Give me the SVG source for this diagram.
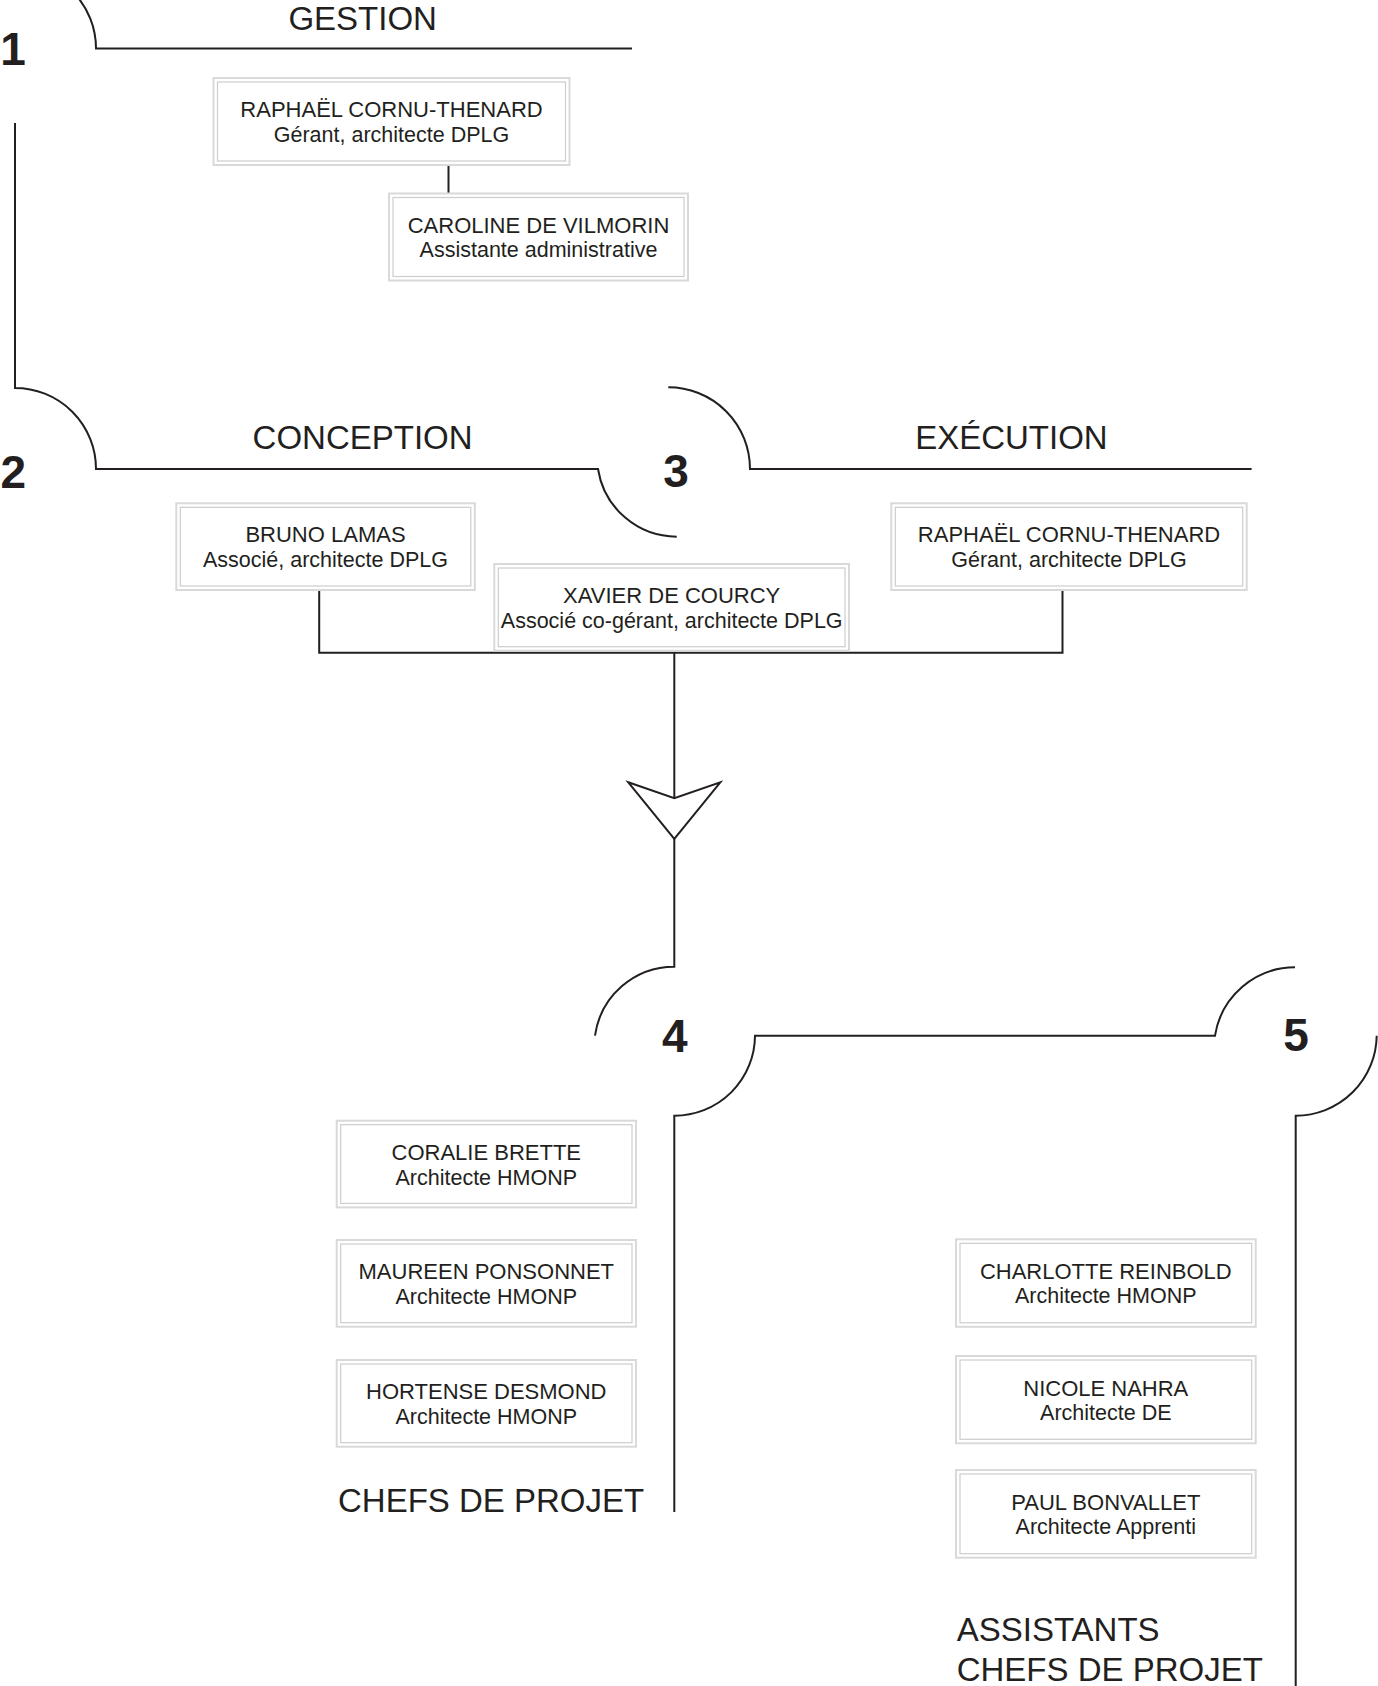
<svg xmlns="http://www.w3.org/2000/svg" width="1378" height="1686" viewBox="0 0 1378 1686">
<style>
.bo{fill:#fff;stroke:#d9d9d9;stroke-width:2}
.bi{fill:none;stroke:#cdcdcd;stroke-width:1.2}
.nm{font-family:"Liberation Sans",Arial,sans-serif;font-size:22px;fill:#231f20;text-anchor:middle}
.rl{font-family:"Liberation Sans",Arial,sans-serif;font-size:21.5px;fill:#231f20;text-anchor:middle}
.ttl{font-family:"Liberation Sans",Arial,sans-serif;font-size:33px;fill:#231f20}
.num{font-family:"Liberation Sans",Arial,sans-serif;font-size:46px;font-weight:bold;fill:#231f20;text-anchor:middle}
.ln{fill:none;stroke:#231f20;stroke-width:2}
.ah{fill:#fff;stroke:#231f20;stroke-width:2;stroke-linejoin:miter}
</style>
<rect width="1378" height="1686" fill="#fff"/>

<g id="connectors">
  <path class="ln" d="M15,-32.5 A81,81 0 0 1 96,48.5 H632"/>
  <path class="ln" d="M15,123 V388 A81,81 0 0 1 96,469 H598 A80,80 0 0 0 676.7,536.7"/>
  <path class="ln" d="M668.3,387.3 A81.7,81.7 0 0 1 750,469 H1251.6"/>
  <path class="ln" d="M448.5,165 V193.5"/>
  <path class="ln" d="M319.2,590 V652.7 H1062.5 V590"/>
  <path class="ln" d="M674.3,652.7 V798.3"/>
  <path class="ln" d="M674.3,839 V966.7 A80,80 0 0 0 595,1035.7"/>
  <polygon class="ah" points="628.3,782.3 674.3,798.3 720.3,782.3 674.3,839"/>
  <path class="ln" d="M1295,967.3 A81,81 0 0 0 1215,1035.7 H755 A80.5,80.5 0 0 1 674.3,1115.7 V1512"/>
  <path class="ln" d="M1376.7,1035.7 A81,81 0 0 1 1295.7,1115.7 V1686"/>
</g>

<g id="section-labels">
  <text class="num" x="13" y="65">1</text>
  <text class="num" x="13.4" y="487.5">2</text>
  <text class="num" x="676" y="486.5">3</text>
  <text class="num" x="674.8" y="1052.3">4</text>
  <text class="num" x="1296" y="1051.2">5</text>
  <text class="ttl" x="362.7" y="29.5" text-anchor="middle">GESTION</text>
  <text class="ttl" x="362.6" y="449.3" text-anchor="middle">CONCEPTION</text>
  <text class="ttl" x="1011.4" y="449.3" text-anchor="middle">EXÉCUTION</text>
  <text class="ttl" x="338" y="1511.7">CHEFS DE PROJET</text>
  <text class="ttl" x="956.7" y="1641">ASSISTANTS</text>
  <text class="ttl" x="956.7" y="1681">CHEFS DE PROJET</text>
</g>

<g id="n-raphael-gestion">
  <rect class="bo" x="213.5" y="78" width="356" height="87"/>
  <rect class="bi" x="217.5" y="82" width="348" height="79"/>
  <text class="nm" x="391.5" y="117.3">RAPHAËL CORNU-THENARD</text>
  <text class="rl" x="391.5" y="141.7">Gérant, architecte DPLG</text>
</g>
<g id="n-caroline">
  <rect class="bo" x="389" y="193.5" width="299" height="87"/>
  <rect class="bi" x="393" y="197.5" width="291" height="79"/>
  <text class="nm" x="538.5" y="232.5">CAROLINE DE VILMORIN</text>
  <text class="rl" x="538.5" y="257">Assistante administrative</text>
</g>
<g id="n-bruno">
  <rect class="bo" x="176.3" y="503.3" width="298.5" height="86.7"/>
  <rect class="bi" x="180.3" y="507.3" width="290.5" height="78.7"/>
  <text class="nm" x="325.5" y="542.3">BRUNO LAMAS</text>
  <text class="rl" x="325.5" y="567">Associé, architecte DPLG</text>
</g>
<g id="n-xavier">
  <rect class="bo" x="494.3" y="564" width="354.7" height="86.7"/>
  <rect class="bi" x="498.3" y="568" width="346.7" height="78.7"/>
  <text class="nm" x="671.7" y="602.7">XAVIER DE COURCY</text>
  <text class="rl" x="671.7" y="627.5">Associé co-gérant, architecte DPLG</text>
</g>
<g id="n-raphael-execution">
  <rect class="bo" x="891.3" y="503.3" width="355.4" height="86.7"/>
  <rect class="bi" x="895.3" y="507.3" width="347.4" height="78.7"/>
  <text class="nm" x="1069" y="542.3">RAPHAËL CORNU-THENARD</text>
  <text class="rl" x="1069" y="567">Gérant, architecte DPLG</text>
</g>
<g id="n-coralie">
  <rect class="bo" x="336.7" y="1120.7" width="299.3" height="86.7"/>
  <rect class="bi" x="340.7" y="1124.7" width="291.3" height="78.7"/>
  <text class="nm" x="486.3" y="1159.5">CORALIE BRETTE</text>
  <text class="rl" x="486.3" y="1184.5">Architecte HMONP</text>
</g>
<g id="n-maureen">
  <rect class="bo" x="336.7" y="1240" width="299.3" height="86.7"/>
  <rect class="bi" x="340.7" y="1244" width="291.3" height="78.7"/>
  <text class="nm" x="486.3" y="1278.8">MAUREEN PONSONNET</text>
  <text class="rl" x="486.3" y="1303.8">Architecte HMONP</text>
</g>
<g id="n-hortense">
  <rect class="bo" x="336.7" y="1360" width="299.3" height="86.7"/>
  <rect class="bi" x="340.7" y="1364" width="291.3" height="78.7"/>
  <text class="nm" x="486.3" y="1398.8">HORTENSE DESMOND</text>
  <text class="rl" x="486.3" y="1423.8">Architecte HMONP</text>
</g>
<g id="n-charlotte">
  <rect class="bo" x="956" y="1239.3" width="299.7" height="87.5"/>
  <rect class="bi" x="960" y="1243.3" width="291.7" height="79.5"/>
  <text class="nm" x="1105.8" y="1279.3">CHARLOTTE REINBOLD</text>
  <text class="rl" x="1105.8" y="1303.3">Architecte HMONP</text>
</g>
<g id="n-nicole">
  <rect class="bo" x="956" y="1356" width="299.7" height="87.3"/>
  <rect class="bi" x="960" y="1360" width="291.7" height="79.3"/>
  <text class="nm" x="1105.8" y="1395.8">NICOLE NAHRA</text>
  <text class="rl" x="1105.8" y="1420">Architecte DE</text>
</g>
<g id="n-paul">
  <rect class="bo" x="956" y="1470" width="299.7" height="87.7"/>
  <rect class="bi" x="960" y="1474" width="291.7" height="79.7"/>
  <text class="nm" x="1105.8" y="1509.8">PAUL BONVALLET</text>
  <text class="rl" x="1105.8" y="1534">Architecte Apprenti</text>
</g>
</svg>
